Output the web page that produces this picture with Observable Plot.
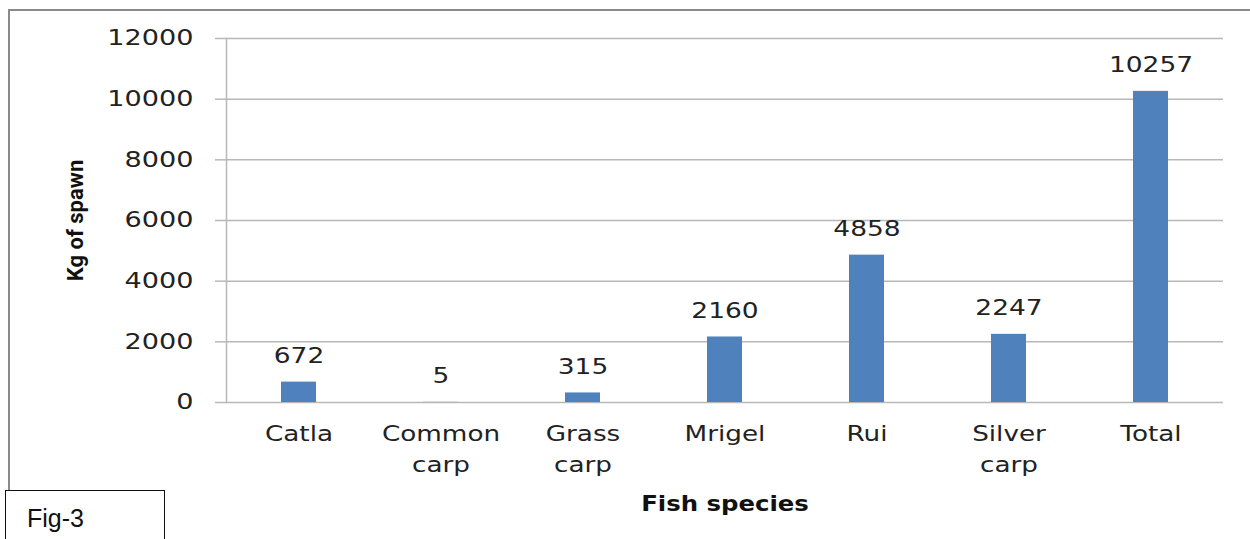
<!DOCTYPE html>
<html>
<head>
<meta charset="utf-8">
<script src="https://cdn.jsdelivr.net/npm/d3@7"></script>
<script src="https://cdn.jsdelivr.net/npm/@observablehq/plot@0.6"></script>
<style>
  html, body { margin: 0; padding: 0; background: #fff; overflow: hidden; }
  #wrap { position: relative; width: 1250px; height: 539px; overflow: hidden; }
  #frame { position: absolute; left: 8px; top: 9px; width: 1300px; height: 600px; border: 2px solid #8a8a8a; box-sizing: border-box; }
  #chart { position: absolute; left: 0; top: 0; }
  #fig { position: absolute; left: 5px; top: 490px; width: 160px; height: 70px; border: 1.5px solid #111; background: #fff; box-sizing: border-box;
         font-family: "Liberation Sans", "Open Sans", sans-serif; font-size: 25px; color: #111; padding: 13px 0 0 21px; }
</style>
</head>
<body>
<div id="wrap">
  <div id="frame"></div>
  <div id="chart"></div>
  <div id="fig">Fig-3</div>
</div>
<script>
const categories = ["Catla", "Common\ncarp", "Grass\ncarp", "Mrigel", "Rui", "Silver\ncarp", "Total"];
const values = [672, 5, 315, 2160, 4858, 2247, 10257];
const yTicks = [0, 2000, 4000, 6000, 8000, 10000, 12000];
const xLabel = "Fish species";
const yLabel = "Kg of spawn";

const data = categories.map((c, i) => ({category: c, value: values[i]}));
const font = "DejaVu Sans, Verdana, sans-serif";

const chart = Plot.plot({
  width: 1250,
  height: 539,
  marginLeft: 226,
  marginRight: 27,
  marginTop: 38,
  marginBottom: 137,
  style: {fontFamily: font, fontSize: "21px", color: "#222", background: "transparent"},
  x: {domain: categories, paddingInner: 0.754, paddingOuter: 0.377, label: null, axis: null},
  y: {domain: [0, 12000], label: null, axis: null},
  marks: [
    Plot.gridY(yTicks, {stroke: "#b8b8b8", strokeOpacity: 1, strokeWidth: 1.5}),
    Plot.axisY(yTicks, {tickSize: 11, stroke: "#b8b8b8", strokeWidth: 1.5, tickFormat: () => "", label: null}),
    Plot.text(yTicks, {y: d => d, frameAnchor: "left", textAnchor: "end", dx: -33, text: d => String(d), fontSize: 21.5, fill: "#222"}),
    Plot.text(categories, {x: d => d, frameAnchor: "bottom", textAnchor: "middle", lineAnchor: "top", dy: 17, text: d => d, fontSize: 21, lineHeight: 1.45, fill: "#222"}),
    Plot.frame({anchor: "left", stroke: "#b8b8b8", strokeWidth: 1.5}),
    Plot.barY(data, {x: "category", y: "value", fill: "#4f81bd"}),
    Plot.text(data, {x: "category", y: "value", text: d => String(d.value), lineAnchor: "bottom", dy: -19, fontSize: 21, fill: "#222"}),
    Plot.text([xLabel], {frameAnchor: "bottom", textAnchor: "middle", dy: 108, text: d => d, fontWeight: "bold", fontSize: 20.5, fill: "#111"}),
    Plot.text([yLabel], {frameAnchor: "left", textAnchor: "middle", dx: -151, rotate: -90, text: d => d, fontFamily: "Liberation Sans Narrow, Roboto, sans-serif", fontWeight: "bold", fontSize: 22, fill: "#111"})
  ]
});
document.getElementById("chart").appendChild(chart);

// Widen the glyphs horizontally, as in the (stretched) reference picture.
// The scale is applied about each text's own anchor point.
function stretch(t, f) {
  const tr = t.getAttribute("transform");
  if (tr) {
    t.setAttribute("transform", `${tr} scale(${f},1)`);
  } else {
    const x = +(t.getAttribute("x") || 0), y = +(t.getAttribute("y") || 0);
    t.setAttribute("transform", `translate(${x},${y}) scale(${f},1) translate(${-x},${-y})`);
  }
}
const yTickStrings = new Set(yTicks.map(String));
const valueStrings = new Set(values.map(String));
const categoryStrings = new Set(categories.map(c => c.replace(/\n/g, "")));
chart.querySelectorAll("text").forEach(t => {
  const s = t.textContent;
  if (s === yLabel || s === "") return;
  if (s === xLabel) stretch(t, 1.19);
  else if (yTickStrings.has(s) || valueStrings.has(s)) stretch(t, 1.26);
  else if (categoryStrings.has(s)) stretch(t, 1.25);
});
</script>
</body>
</html>
